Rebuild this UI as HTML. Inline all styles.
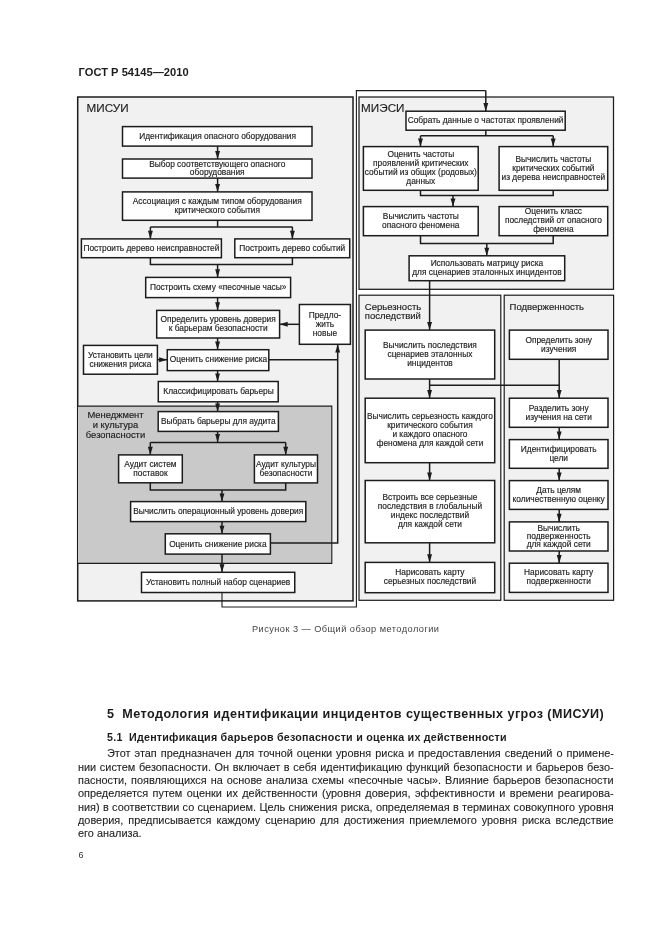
<!DOCTYPE html>
<html lang="ru">
<head>
<meta charset="utf-8">
<title>ГОСТ Р 54145—2010</title>
<style>
html,body{margin:0;padding:0;background:#fff;}
body{width:661px;height:936px;position:relative;overflow:hidden;font-family:"Liberation Sans",sans-serif;color:#222;}
#page{position:absolute;left:0;top:0;width:661px;height:936px;filter:blur(0.4px);}
svg{position:absolute;left:0;top:0;}
svg text{font-family:"Liberation Sans",sans-serif;stroke:#1c1c1c;stroke-width:0.15px;}
.t{position:absolute;white-space:pre;line-height:20px;height:20px;transform-origin:0 0;}
.pl{position:absolute;white-space:pre;font-size:10.4px;line-height:24px;height:24px;letter-spacing:0.0px;color:#222;-webkit-text-stroke:0.1px #222;transform:scaleX(1.05);transform-origin:0 0;}
</style>
</head>
<body>
<div id="page">
<svg width="661" height="936" viewBox="0 0 661 936">
<rect x="77.70" y="97.00" width="275.30" height="503.90" fill="#f1f1f1" stroke="#1c1c1c" stroke-width="1.5"/>
<rect x="78.00" y="406.30" width="253.80" height="157.10" fill="#c9c9c9" stroke="#1c1c1c" stroke-width="0"/>
<path d="M78.00 406.10 L331.80 406.10 L331.80 563.40 L78.00 563.40" fill="none" stroke="#1c1c1c" stroke-width="1.1"/>
<rect x="359.00" y="97.00" width="254.50" height="192.30" fill="#f1f1f1" stroke="#1c1c1c" stroke-width="1.25"/>
<rect x="359.00" y="295.20" width="141.80" height="305.10" fill="#f1f1f1" stroke="#1c1c1c" stroke-width="1.2"/>
<rect x="504.20" y="295.20" width="109.40" height="305.10" fill="#f1f1f1" stroke="#1c1c1c" stroke-width="1.2"/>
<text x="86.60" y="111.80" font-size="11.7" text-anchor="start" fill="#1c1c1c">МИСУИ</text>
<text x="361.10" y="112.10" font-size="11.7" text-anchor="start" fill="#1c1c1c">МИЭСИ</text>
<text x="364.80" y="309.60" font-size="9.5" text-anchor="start" fill="#1c1c1c">Серьезность</text>
<text x="364.80" y="319.10" font-size="9.5" text-anchor="start" fill="#1c1c1c">последствий</text>
<text x="509.60" y="309.60" font-size="9.5" text-anchor="start" fill="#1c1c1c">Подверженность</text>
<text x="115.50" y="417.50" font-size="9.4" text-anchor="middle" fill="#1c1c1c">Менеджмент</text>
<text x="115.50" y="428.00" font-size="9.4" text-anchor="middle" fill="#1c1c1c">и культура</text>
<text x="115.50" y="438.40" font-size="9.4" text-anchor="middle" fill="#1c1c1c">безопасности</text>
<path d="M217.60 146.10 L217.60 159.00" fill="none" stroke="#1c1c1c" stroke-width="1.5"/>
<polygon points="217.60,159.00 215.15,150.90 220.05,150.90" fill="#1c1c1c"/>
<path d="M217.60 178.00 L217.60 192.00" fill="none" stroke="#1c1c1c" stroke-width="1.5"/>
<polygon points="217.60,192.00 215.15,183.90 220.05,183.90" fill="#1c1c1c"/>
<path d="M217.60 220.00 L217.60 226.90" fill="none" stroke="#1c1c1c" stroke-width="1.5"/>
<path d="M150.40 226.90 L292.40 226.90" fill="none" stroke="#1c1c1c" stroke-width="1.5"/>
<path d="M150.40 226.90 L150.40 238.90" fill="none" stroke="#1c1c1c" stroke-width="1.5"/>
<polygon points="150.40,238.90 147.95,230.80 152.85,230.80" fill="#1c1c1c"/>
<path d="M292.40 226.90 L292.40 238.90" fill="none" stroke="#1c1c1c" stroke-width="1.5"/>
<polygon points="292.40,238.90 289.95,230.80 294.85,230.80" fill="#1c1c1c"/>
<path d="M150.40 257.70 L150.40 264.60 L292.40 264.60 L292.40 257.70" fill="none" stroke="#1c1c1c" stroke-width="1.5"/>
<path d="M217.60 264.60 L217.60 277.40" fill="none" stroke="#1c1c1c" stroke-width="1.5"/>
<polygon points="217.60,277.40 215.15,269.30 220.05,269.30" fill="#1c1c1c"/>
<path d="M217.60 297.60 L217.60 310.40" fill="none" stroke="#1c1c1c" stroke-width="1.5"/>
<polygon points="217.60,310.40 215.15,302.30 220.05,302.30" fill="#1c1c1c"/>
<path d="M217.60 338.00 L217.60 349.70" fill="none" stroke="#1c1c1c" stroke-width="1.5"/>
<polygon points="217.60,349.70 215.15,341.60 220.05,341.60" fill="#1c1c1c"/>
<path d="M217.60 370.00 L217.60 381.50" fill="none" stroke="#1c1c1c" stroke-width="1.5"/>
<polygon points="217.60,381.50 215.15,373.40 220.05,373.40" fill="#1c1c1c"/>
<path d="M217.60 401.80 L217.60 411.60" fill="none" stroke="#1c1c1c" stroke-width="1.5"/>
<polygon points="217.60,411.60 215.15,403.50 220.05,403.50" fill="#1c1c1c"/>
<path d="M217.60 431.40 L217.60 442.20" fill="none" stroke="#1c1c1c" stroke-width="1.5"/>
<polygon points="217.60,442.20 215.15,434.10 220.05,434.10" fill="#1c1c1c"/>
<path d="M150.30 442.40 L285.70 442.40" fill="none" stroke="#1c1c1c" stroke-width="1.5"/>
<path d="M150.30 442.40 L150.30 454.90" fill="none" stroke="#1c1c1c" stroke-width="1.5"/>
<polygon points="150.30,454.90 147.85,446.80 152.75,446.80" fill="#1c1c1c"/>
<path d="M285.70 442.40 L285.70 454.90" fill="none" stroke="#1c1c1c" stroke-width="1.5"/>
<polygon points="285.70,454.90 283.25,446.80 288.15,446.80" fill="#1c1c1c"/>
<path d="M150.30 482.80 L150.30 490.00 L285.70 490.00 L285.70 482.80" fill="none" stroke="#1c1c1c" stroke-width="1.5"/>
<path d="M222.00 490.00 L222.00 501.60" fill="none" stroke="#1c1c1c" stroke-width="1.5"/>
<polygon points="222.00,501.60 219.55,493.50 224.45,493.50" fill="#1c1c1c"/>
<path d="M222.00 521.60 L222.00 533.80" fill="none" stroke="#1c1c1c" stroke-width="1.5"/>
<polygon points="222.00,533.80 219.55,525.70 224.45,525.70" fill="#1c1c1c"/>
<path d="M222.00 554.00 L222.00 572.30" fill="none" stroke="#1c1c1c" stroke-width="1.5"/>
<polygon points="222.00,572.30 219.55,564.20 224.45,564.20" fill="#1c1c1c"/>
<path d="M222.00 592.50 L222.00 607.00 L356.40 607.00 L356.40 90.60 L485.80 90.60" fill="none" stroke="#1c1c1c" stroke-width="1.1"/>
<path d="M485.80 90.60 L485.80 111.20" fill="none" stroke="#1c1c1c" stroke-width="1.5"/>
<polygon points="485.80,111.20 483.35,103.10 488.25,103.10" fill="#1c1c1c"/>
<path d="M157.40 359.70 L167.20 359.70" fill="none" stroke="#1c1c1c" stroke-width="1.5"/>
<polygon points="167.20,359.70 159.10,357.25 159.10,362.15" fill="#1c1c1c"/>
<path d="M268.60 359.70 L337.70 359.70" fill="none" stroke="#1c1c1c" stroke-width="1.5"/>
<path d="M270.40 543.10 L337.70 543.10 L337.70 344.30" fill="none" stroke="#1c1c1c" stroke-width="1.5"/>
<polygon points="337.70,344.30 335.25,352.40 340.15,352.40" fill="#1c1c1c"/>
<path d="M299.40 324.30 L279.60 324.30" fill="none" stroke="#1c1c1c" stroke-width="1.5"/>
<polygon points="279.60,324.30 287.70,321.85 287.70,326.75" fill="#1c1c1c"/>
<rect x="122.50" y="126.60" width="189.50" height="19.50" fill="#fff" stroke="#1c1c1c" stroke-width="1.5"/>
<text x="217.60" y="138.70" font-size="8.35" text-anchor="middle" fill="#1c1c1c">Идентификация опасного оборудования</text>
<rect x="122.50" y="159.00" width="189.50" height="19.10" fill="#fff" stroke="#1c1c1c" stroke-width="1.5"/>
<text x="217.25" y="166.70" font-size="8.35" text-anchor="middle" fill="#1c1c1c">Выбор соответствующего опасного</text>
<text x="217.25" y="174.90" font-size="8.35" text-anchor="middle" fill="#1c1c1c">оборудования</text>
<rect x="122.50" y="191.90" width="189.50" height="28.40" fill="#fff" stroke="#1c1c1c" stroke-width="1.5"/>
<text x="217.25" y="203.70" font-size="8.35" text-anchor="middle" fill="#1c1c1c">Ассоциация с каждым типом оборудования</text>
<text x="217.25" y="212.70" font-size="8.35" text-anchor="middle" fill="#1c1c1c">критического события</text>
<rect x="81.40" y="238.90" width="140.00" height="18.80" fill="#fff" stroke="#1c1c1c" stroke-width="1.5"/>
<text x="151.40" y="250.90" font-size="8.35" text-anchor="middle" fill="#1c1c1c">Построить дерево неисправностей</text>
<rect x="234.80" y="238.90" width="114.90" height="18.80" fill="#fff" stroke="#1c1c1c" stroke-width="1.5"/>
<text x="292.25" y="251.00" font-size="8.35" text-anchor="middle" fill="#1c1c1c">Построить дерево событий</text>
<rect x="145.70" y="277.40" width="144.90" height="20.20" fill="#fff" stroke="#1c1c1c" stroke-width="1.5"/>
<text x="218.15" y="290.00" font-size="8.35" text-anchor="middle" fill="#1c1c1c">Построить схему «песочные часы»</text>
<rect x="156.70" y="310.40" width="122.90" height="27.60" fill="#fff" stroke="#1c1c1c" stroke-width="1.5"/>
<text x="218.15" y="322.10" font-size="8.35" text-anchor="middle" fill="#1c1c1c">Определить уровень доверия</text>
<text x="218.15" y="331.20" font-size="8.35" text-anchor="middle" fill="#1c1c1c">к барьерам безопасности</text>
<rect x="299.40" y="304.50" width="51.00" height="39.80" fill="#fff" stroke="#1c1c1c" stroke-width="1.5"/>
<text x="324.90" y="317.60" font-size="8.35" text-anchor="middle" fill="#1c1c1c">Предло-</text>
<text x="324.90" y="326.70" font-size="8.35" text-anchor="middle" fill="#1c1c1c">жить</text>
<text x="324.90" y="335.70" font-size="8.35" text-anchor="middle" fill="#1c1c1c">новые</text>
<rect x="83.50" y="345.40" width="73.90" height="28.80" fill="#fff" stroke="#1c1c1c" stroke-width="1.5"/>
<text x="120.45" y="357.50" font-size="8.35" text-anchor="middle" fill="#1c1c1c">Установить цели</text>
<text x="120.45" y="366.60" font-size="8.35" text-anchor="middle" fill="#1c1c1c">снижения риска</text>
<rect x="167.30" y="349.70" width="101.50" height="20.90" fill="#fff" stroke="#1c1c1c" stroke-width="1.5"/>
<text x="218.50" y="362.30" font-size="8.35" text-anchor="middle" fill="#1c1c1c">Оценить снижение риска</text>
<rect x="158.30" y="381.50" width="119.90" height="20.30" fill="#fff" stroke="#1c1c1c" stroke-width="1.5"/>
<text x="218.50" y="393.80" font-size="8.35" text-anchor="middle" fill="#1c1c1c">Классифицировать барьеры</text>
<rect x="158.20" y="411.60" width="120.20" height="19.80" fill="#fff" stroke="#1c1c1c" stroke-width="1.5"/>
<text x="218.30" y="424.00" font-size="8.35" text-anchor="middle" fill="#1c1c1c">Выбрать барьеры для аудита</text>
<rect x="118.60" y="454.90" width="63.70" height="27.90" fill="#fff" stroke="#1c1c1c" stroke-width="1.5"/>
<text x="150.45" y="467.20" font-size="8.35" text-anchor="middle" fill="#1c1c1c">Аудит систем</text>
<text x="150.45" y="475.80" font-size="8.35" text-anchor="middle" fill="#1c1c1c">поставок</text>
<rect x="254.40" y="454.90" width="63.10" height="28.00" fill="#fff" stroke="#1c1c1c" stroke-width="1.5"/>
<text x="285.95" y="467.20" font-size="8.35" text-anchor="middle" fill="#1c1c1c">Аудит культуры</text>
<text x="285.95" y="475.80" font-size="8.35" text-anchor="middle" fill="#1c1c1c">безопасности</text>
<rect x="130.60" y="501.60" width="175.20" height="20.00" fill="#fff" stroke="#1c1c1c" stroke-width="1.5"/>
<text x="218.20" y="513.90" font-size="8.35" text-anchor="middle" fill="#1c1c1c">Вычислить операционный уровень доверия</text>
<rect x="165.30" y="533.80" width="105.10" height="20.30" fill="#fff" stroke="#1c1c1c" stroke-width="1.5"/>
<text x="217.85" y="546.60" font-size="8.35" text-anchor="middle" fill="#1c1c1c">Оценить снижение риска</text>
<rect x="141.50" y="572.30" width="153.25" height="20.20" fill="#fff" stroke="#1c1c1c" stroke-width="1.5"/>
<text x="218.12" y="584.60" font-size="8.35" text-anchor="middle" fill="#1c1c1c">Установить полный набор сценариев</text>
<path d="M485.80 130.20 L485.80 135.80" fill="none" stroke="#1c1c1c" stroke-width="1.5"/>
<path d="M420.50 135.80 L553.20 135.80" fill="none" stroke="#1c1c1c" stroke-width="1.5"/>
<path d="M420.50 135.80 L420.50 146.60" fill="none" stroke="#1c1c1c" stroke-width="1.5"/>
<polygon points="420.50,146.60 418.05,138.50 422.95,138.50" fill="#1c1c1c"/>
<path d="M553.20 135.80 L553.20 146.60" fill="none" stroke="#1c1c1c" stroke-width="1.5"/>
<polygon points="553.20,146.60 550.75,138.50 555.65,138.50" fill="#1c1c1c"/>
<path d="M420.50 190.30 L420.50 195.50 L553.20 195.50 L553.20 190.30" fill="none" stroke="#1c1c1c" stroke-width="1.5"/>
<path d="M453.00 195.50 L453.00 206.60" fill="none" stroke="#1c1c1c" stroke-width="1.5"/>
<polygon points="453.00,206.60 450.55,198.50 455.45,198.50" fill="#1c1c1c"/>
<path d="M420.50 235.70 L420.50 243.60 L553.20 243.60 L553.20 235.70" fill="none" stroke="#1c1c1c" stroke-width="1.5"/>
<path d="M486.80 243.60 L486.80 255.80" fill="none" stroke="#1c1c1c" stroke-width="1.5"/>
<polygon points="486.80,255.80 484.35,247.70 489.25,247.70" fill="#1c1c1c"/>
<path d="M429.60 280.70 L429.60 330.10" fill="none" stroke="#1c1c1c" stroke-width="1.5"/>
<polygon points="429.60,330.10 427.15,322.00 432.05,322.00" fill="#1c1c1c"/>
<rect x="406.00" y="111.20" width="159.20" height="19.00" fill="#fff" stroke="#1c1c1c" stroke-width="1.5"/>
<text x="485.60" y="123.30" font-size="8.35" text-anchor="middle" fill="#1c1c1c">Собрать данные о частотах проявлений</text>
<rect x="363.40" y="146.60" width="114.80" height="43.70" fill="#fff" stroke="#1c1c1c" stroke-width="1.5"/>
<text x="420.80" y="157.20" font-size="8.35" text-anchor="middle" fill="#1c1c1c">Оценить частоты</text>
<text x="420.80" y="166.10" font-size="8.35" text-anchor="middle" fill="#1c1c1c">проявлений критических</text>
<text x="420.80" y="175.10" font-size="8.35" text-anchor="middle" fill="#1c1c1c">событий из общих (родовых)</text>
<text x="420.80" y="183.90" font-size="8.35" text-anchor="middle" fill="#1c1c1c">данных</text>
<rect x="499.10" y="146.60" width="108.60" height="43.70" fill="#fff" stroke="#1c1c1c" stroke-width="1.5"/>
<text x="553.40" y="161.50" font-size="8.35" text-anchor="middle" fill="#1c1c1c">Вычислить частоты</text>
<text x="553.40" y="170.80" font-size="8.35" text-anchor="middle" fill="#1c1c1c">критических событий</text>
<text x="553.40" y="180.10" font-size="8.35" text-anchor="middle" fill="#1c1c1c">из дерева неисправностей</text>
<rect x="363.40" y="206.60" width="114.80" height="29.10" fill="#fff" stroke="#1c1c1c" stroke-width="1.5"/>
<text x="420.80" y="219.00" font-size="8.35" text-anchor="middle" fill="#1c1c1c">Вычислить частоты</text>
<text x="420.80" y="228.10" font-size="8.35" text-anchor="middle" fill="#1c1c1c">опасного феномена</text>
<rect x="499.10" y="206.60" width="108.60" height="29.10" fill="#fff" stroke="#1c1c1c" stroke-width="1.5"/>
<text x="553.40" y="213.80" font-size="8.35" text-anchor="middle" fill="#1c1c1c">Оценить класс</text>
<text x="553.40" y="222.80" font-size="8.35" text-anchor="middle" fill="#1c1c1c">последствий от опасного</text>
<text x="553.40" y="231.80" font-size="8.35" text-anchor="middle" fill="#1c1c1c">феномена</text>
<rect x="409.10" y="255.80" width="155.60" height="24.90" fill="#fff" stroke="#1c1c1c" stroke-width="1.5"/>
<text x="486.90" y="265.90" font-size="8.35" text-anchor="middle" fill="#1c1c1c">Использовать матрицу риска</text>
<text x="486.90" y="274.60" font-size="8.35" text-anchor="middle" fill="#1c1c1c">для сценариев эталонных инцидентов</text>
<path d="M429.60 379.00 L429.60 398.20" fill="none" stroke="#1c1c1c" stroke-width="1.5"/>
<polygon points="429.60,398.20 427.15,390.10 432.05,390.10" fill="#1c1c1c"/>
<path d="M429.60 385.20 L559.20 385.20" fill="none" stroke="#1c1c1c" stroke-width="1.5"/>
<path d="M429.60 462.70 L429.60 480.50" fill="none" stroke="#1c1c1c" stroke-width="1.5"/>
<polygon points="429.60,480.50 427.15,472.40 432.05,472.40" fill="#1c1c1c"/>
<path d="M429.60 542.80 L429.60 562.40" fill="none" stroke="#1c1c1c" stroke-width="1.5"/>
<polygon points="429.60,562.40 427.15,554.30 432.05,554.30" fill="#1c1c1c"/>
<rect x="365.20" y="330.10" width="129.50" height="48.90" fill="#fff" stroke="#1c1c1c" stroke-width="1.5"/>
<text x="429.95" y="347.50" font-size="8.35" text-anchor="middle" fill="#1c1c1c">Вычислить последствия</text>
<text x="429.95" y="356.60" font-size="8.35" text-anchor="middle" fill="#1c1c1c">сценариев эталонных</text>
<text x="429.95" y="365.70" font-size="8.35" text-anchor="middle" fill="#1c1c1c">инцидентов</text>
<rect x="365.20" y="398.20" width="129.50" height="64.50" fill="#fff" stroke="#1c1c1c" stroke-width="1.5"/>
<text x="429.95" y="418.50" font-size="8.35" text-anchor="middle" fill="#1c1c1c">Вычислить серьезность каждого</text>
<text x="429.95" y="427.60" font-size="8.35" text-anchor="middle" fill="#1c1c1c">критического события</text>
<text x="429.95" y="436.60" font-size="8.35" text-anchor="middle" fill="#1c1c1c">и каждого опасного</text>
<text x="429.95" y="445.60" font-size="8.35" text-anchor="middle" fill="#1c1c1c">феномена для каждой сети</text>
<rect x="365.20" y="480.50" width="129.50" height="62.30" fill="#fff" stroke="#1c1c1c" stroke-width="1.5"/>
<text x="429.95" y="499.80" font-size="8.35" text-anchor="middle" fill="#1c1c1c">Встроить все серьезные</text>
<text x="429.95" y="508.80" font-size="8.35" text-anchor="middle" fill="#1c1c1c">последствия в глобальный</text>
<text x="429.95" y="517.80" font-size="8.35" text-anchor="middle" fill="#1c1c1c">индекс последствий</text>
<text x="429.95" y="526.70" font-size="8.35" text-anchor="middle" fill="#1c1c1c">для каждой сети</text>
<rect x="365.20" y="562.40" width="129.50" height="30.30" fill="#fff" stroke="#1c1c1c" stroke-width="1.5"/>
<text x="429.95" y="574.80" font-size="8.35" text-anchor="middle" fill="#1c1c1c">Нарисовать карту</text>
<text x="429.95" y="583.90" font-size="8.35" text-anchor="middle" fill="#1c1c1c">серьезных последствий</text>
<path d="M559.20 359.30 L559.20 398.20" fill="none" stroke="#1c1c1c" stroke-width="1.5"/>
<polygon points="559.20,398.20 556.75,390.10 561.65,390.10" fill="#1c1c1c"/>
<path d="M559.20 427.30 L559.20 439.60" fill="none" stroke="#1c1c1c" stroke-width="1.5"/>
<polygon points="559.20,439.60 556.75,431.50 561.65,431.50" fill="#1c1c1c"/>
<path d="M559.20 468.30 L559.20 480.60" fill="none" stroke="#1c1c1c" stroke-width="1.5"/>
<polygon points="559.20,480.60 556.75,472.50 561.65,472.50" fill="#1c1c1c"/>
<path d="M559.20 509.40 L559.20 521.90" fill="none" stroke="#1c1c1c" stroke-width="1.5"/>
<polygon points="559.20,521.90 556.75,513.80 561.65,513.80" fill="#1c1c1c"/>
<path d="M559.20 551.00 L559.20 563.20" fill="none" stroke="#1c1c1c" stroke-width="1.5"/>
<polygon points="559.20,563.20 556.75,555.10 561.65,555.10" fill="#1c1c1c"/>
<rect x="509.40" y="330.10" width="98.60" height="29.20" fill="#fff" stroke="#1c1c1c" stroke-width="1.5"/>
<text x="558.70" y="342.80" font-size="8.35" text-anchor="middle" fill="#1c1c1c">Определить зону</text>
<text x="558.70" y="351.90" font-size="8.35" text-anchor="middle" fill="#1c1c1c">изучения</text>
<rect x="509.40" y="398.20" width="98.60" height="29.10" fill="#fff" stroke="#1c1c1c" stroke-width="1.5"/>
<text x="558.70" y="410.60" font-size="8.35" text-anchor="middle" fill="#1c1c1c">Разделить зону</text>
<text x="558.70" y="419.70" font-size="8.35" text-anchor="middle" fill="#1c1c1c">изучения на сети</text>
<rect x="509.40" y="439.60" width="98.60" height="28.70" fill="#fff" stroke="#1c1c1c" stroke-width="1.5"/>
<text x="558.70" y="451.90" font-size="8.35" text-anchor="middle" fill="#1c1c1c">Идентифицировать</text>
<text x="558.70" y="460.80" font-size="8.35" text-anchor="middle" fill="#1c1c1c">цели</text>
<rect x="509.40" y="480.60" width="98.60" height="28.80" fill="#fff" stroke="#1c1c1c" stroke-width="1.5"/>
<text x="558.70" y="492.80" font-size="8.35" text-anchor="middle" fill="#1c1c1c">Дать целям</text>
<text x="558.70" y="501.70" font-size="8.35" text-anchor="middle" fill="#1c1c1c">количественную оценку</text>
<rect x="509.40" y="521.90" width="98.60" height="29.10" fill="#fff" stroke="#1c1c1c" stroke-width="1.5"/>
<text x="558.70" y="530.50" font-size="8.35" text-anchor="middle" fill="#1c1c1c">Вычислить</text>
<text x="558.70" y="538.50" font-size="8.35" text-anchor="middle" fill="#1c1c1c">подверженность</text>
<text x="558.70" y="546.80" font-size="8.35" text-anchor="middle" fill="#1c1c1c">для каждой сети</text>
<rect x="509.40" y="563.20" width="98.60" height="29.20" fill="#fff" stroke="#1c1c1c" stroke-width="1.5"/>
<text x="558.70" y="575.00" font-size="8.35" text-anchor="middle" fill="#1c1c1c">Нарисовать карту</text>
<text x="558.70" y="583.90" font-size="8.35" text-anchor="middle" fill="#1c1c1c">подверженности</text>
</svg>
<div class="t" id="hdr" style="left:78.6px;top:62.40px;font-size:11.1px;letter-spacing:0.032px;font-weight:bold;color:#1c1c1c;">ГОСТ Р 54145—2010</div>
<div class="t" id="cap" style="left:251.6px;top:618.70px;font-size:8.8px;letter-spacing:0.421px;transform:scaleX(1.05);color:#444;">Рисунок 3 — Общий обзор методологии</div>
<div class="t" id="h1" style="left:107.2px;top:703.84px;font-size:12px;letter-spacing:0.423px;font-weight:bold;transform:scaleX(1.05);color:#1c1c1c;">5  Методология идентификации инцидентов существенных угроз (МИСУИ)</div>
<div class="t" id="h2" style="left:107.2px;top:727.72px;font-size:10.2px;letter-spacing:0.225px;font-weight:bold;transform:scaleX(1.05);color:#1c1c1c;">5.1  Идентификация барьеров безопасности и оценка их действенности</div>
<div class="t" id="pn" style="left:78.5px;top:844.58px;font-size:9.0px;color:#333;">6</div>
<div class="pl" style="left:107.1px;top:741.60px;word-spacing:0.952px;">Этот этап предназначен для точной оценки уровня риска и предоставления сведений о примене-</div>
<div class="pl" style="left:78.35px;top:755.80px;word-spacing:0.574px;">нии систем безопасности. Он включает в себя идентификацию функций безопасности и барьеров безо-</div>
<div class="pl" style="left:78.35px;top:769.00px;word-spacing:0.896px;">пасности, появляющихся на основе анализа схемы «песочные часы». Влияние барьеров безопасности</div>
<div class="pl" style="left:78.35px;top:782.20px;word-spacing:1.300px;">определяется путем оценки их действенности (уровня доверия, эффективности и времени реагирова-</div>
<div class="pl" style="left:78.35px;top:795.50px;word-spacing:0.280px;">ния) в соответствии со сценарием. Цель снижения риска, определяемая в терминах совокупного уровня</div>
<div class="pl" style="left:78.35px;top:808.70px;word-spacing:1.853px;">доверия, предписывается каждому сценарию для достижения приемлемого уровня риска вследствие</div>
<div class="pl" style="left:78.35px;top:821.90px;">его анализа.</div>
</div>
</body>
</html>
